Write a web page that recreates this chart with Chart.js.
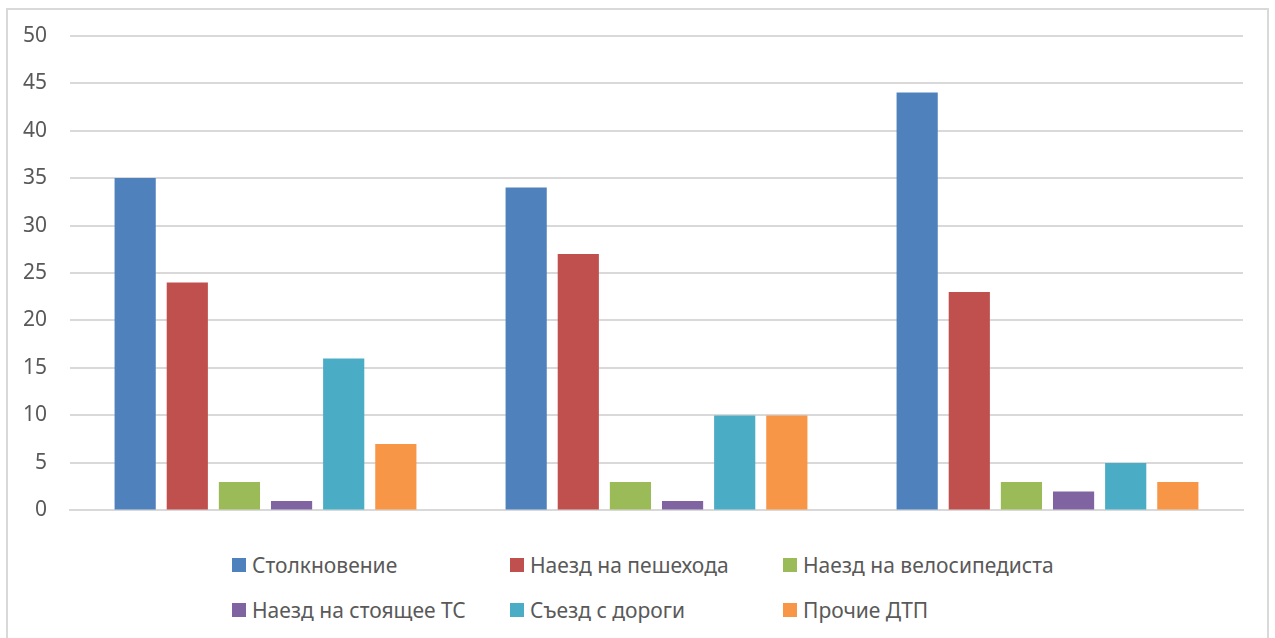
<!DOCTYPE html>
<html>
<head>
<meta charset="utf-8">
<script src="https://cdn.jsdelivr.net/npm/chart.js@4.4.1/dist/chart.umd.min.js"></script>
<style>
  body { margin: 0; background: #fff; font-family: "Noto Sans", sans-serif; }
  #frame {
    position: absolute; left: 6px; top: 8px; width: 1263px; height: 700px;
    border: 2px solid #d9d9d9; box-sizing: border-box;
  }
  #wrap { position: absolute; left: 0; top: 0; width: 1275px; height: 546px; }
  #legend {
    position: absolute; left: 232px; top: 552px;
    display: grid; grid-template-columns: 278px 273px 300px; row-gap: 19px;
  }
  .item { display: flex; align-items: center; font-size: 21px; color: #595959; white-space: nowrap; height: 26px; }
  .box { width: 14px; height: 14px; margin-right: 6px; flex: none; }
</style>
</head>
<body>
<div id="frame"></div>
<div id="wrap"><canvas id="chart"></canvas></div>
<div id="legend"></div>
<script>
// DATA
const categories = ["1", "2", "3"];
const seriesNames = ["Столкновение", "Наезд на пешехода", "Наезд на велосипедиста",
                     "Наезд на стоящее ТС", "Съезд с дороги", "Прочие ДТП"];
const collision = [35, 34, 44];
const pedestrian = [24, 27, 23];
const cyclist = [3, 3, 3];
const parked = [1, 1, 2];
const offRoad = [16, 10, 5];
const other = [7, 10, 3];
const yTicks = [0, 5, 10, 15, 20, 25, 30, 35, 40, 45, 50];

const colors = ["#4F81BD", "#C0504D", "#9BBB59", "#8064A2", "#4BACC6", "#F79646"];
const values = [collision, pedestrian, cyclist, parked, offRoad, other];

let chart = new Chart(document.getElementById("chart"), {
  type: "bar",
  data: {
    labels: categories,
    datasets: values.map((v, i) => ({
      label: seriesNames[i],
      data: v,
      backgroundColor: colors[i],
      categoryPercentage: 0.8,
      barPercentage: 0.79
    }))
  },
  options: {
    responsive: true,
    maintainAspectRatio: false,
    animation: false,
    layout: { padding: { left: 6, right: 32, top: 34, bottom: 12 } },
    plugins: { legend: { display: false }, tooltip: { enabled: false } },
    scales: {
      x: {
        ticks: { display: false },
        grid: { display: false },
        border: { color: "#d9d9d9", width: 2 }
      },
      y: {
        min: 0, max: 50,
        afterBuildTicks: s => { s.ticks = yTicks.map(v => ({ value: v })); },
        afterFit: s => { s.width = 64; },
        ticks: { color: "#595959", font: { family: "Noto Sans", size: 21 }, padding: 23 },
        grid: { color: "#d9d9d9", lineWidth: 2, drawTicks: false },
        border: { display: false }
      }
    }
  }
});

// LEGEND
const legend = document.getElementById("legend");
chart.data.datasets.forEach(ds => {
  let item = document.createElement("div");
  item.className = "item";
  item.innerHTML = `<span class="box" style="background:${ds.backgroundColor}"></span>${ds.label}`;
  legend.appendChild(item);
});
</script>
</body>
</html>
